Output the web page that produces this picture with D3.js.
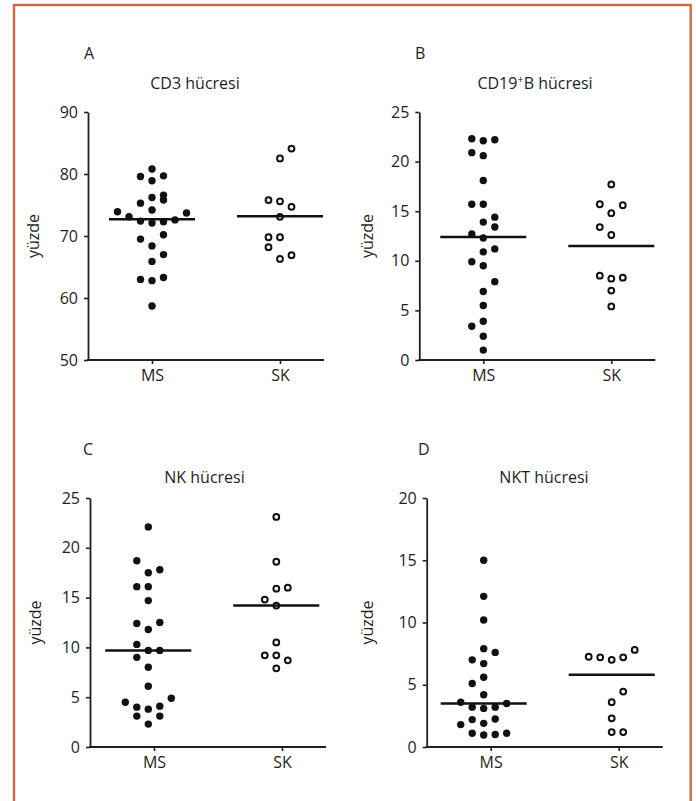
<!DOCTYPE html>
<html>
<head>
<meta charset="utf-8">
<script src="https://cdn.jsdelivr.net/npm/d3@7"></script>
<style>
  html, body { margin: 0; padding: 0; background: #fff; }
  svg { display: block; }
  text { font-family: "Open Sans", "Noto Sans", sans-serif; fill: #231f20; }
</style>
</head>
<body>
<svg id="chart" width="696" height="801"></svg>
<script>
// ---------- data ----------
const groups = ["MS", "SK"];

// A: CD3 hücresi
const cd3Ticks = [50, 60, 70, 80, 90];
const cd3MS = [80.8, 79.6, 79.7, 78.9, 76.6, 75.8, 76.2, 75.3, 74.2, 73.9, 73.1, 73.7, 72.4, 72.1, 72.3, 72.6, 70.2, 69.5, 68.4, 67.0, 65.9, 63.0, 62.8, 63.3, 58.7];
const cd3MSColumn = [0, -1, 1, 0, 1, 1, 0, -1, 0, -3, -2, 3, -1, 0, 1, 2, 1, -1, 0, 1, 0, -1, 0, 1, 0];
const cd3SK = [84.1, 82.5, 75.8, 75.6, 74.7, 73.1, 69.8, 69.8, 68.2, 66.3, 66.9];
const cd3SKColumn = [1, 0, -1, 0, 1, 0, -1, 0, -1, 0, 1];
const cd3Medians = [72.7, 73.2];

// B: CD19+B hücresi
const cd19Ticks = [0, 5, 10, 15, 20, 25];
const cd19MS = [22.3, 22.1, 22.2, 20.9, 20.6, 18.1, 15.7, 15.7, 14.4, 13.9, 13.4, 12.7, 12.3, 10.9, 11.2, 9.9, 9.5, 7.9, 6.9, 5.5, 3.4, 3.9, 2.4, 1.0];
const cd19MSColumn = [-1, 0, 1, -1, 0, 0, -1, 0, 1, 0, 1, -1, 0, 0, 1, -1, 0, 1, 0, 0, -1, 0, 0, 0];
const cd19SK = [17.7, 15.7, 15.6, 14.8, 13.4, 12.6, 8.5, 8.2, 8.3, 7.0, 5.4];
const cd19SKColumn = [0, -1, 1, 0, -1, 0, -1, 0, 1, 0, 0];
const cd19Medians = [12.4, 11.5];

// C: NK hücresi
const nkTicks = [0, 5, 10, 15, 20, 25];
const nkMS = [22.1, 18.7, 17.5, 17.8, 16.1, 16.1, 14.7, 12.4, 12.5, 11.8, 10.3, 9.7, 9.7, 9.0, 8.0, 6.1, 4.5, 4.9, 4.0, 3.8, 4.1, 3.1, 3.1, 2.3];
const nkMSColumn = [0, -1, 0, 1, -1, 0, 0, -1, 1, 0, -1, 0, 1, -1, 0, 0, -2, 2, -1, 0, 1, -1, 1, 0];
const nkSK = [23.1, 18.6, 15.9, 16.0, 14.8, 14.2, 10.5, 9.2, 9.2, 8.7, 7.9];
const nkSKColumn = [0, 0, 0, 1, -1, 0, 0, -1, 0, 1, 0];
const nkMedians = [9.7, 14.2];

// D: NKT hücresi
const nktTicks = [0, 5, 10, 15, 20];
const nktMS = [15.0, 12.1, 10.2, 7.9, 7.6, 7.0, 6.7, 5.6, 5.1, 4.2, 3.6, 3.5, 3.2, 3.2, 3.1, 1.8, 2.2, 2.25, 1.9, 1.1, 0.96, 1.0, 1.1];
const nktMSColumn = [0, 0, 0, 0, 1, -1, 0, 0, -1, 0, -2, 2, -1, 1, 0, -2, -1, 1, 0, -1, 0, 1, 2];
const nktSK = [7.25, 7.2, 7.0, 7.2, 7.8, 4.45, 3.6, 2.3, 1.2, 1.2];
const nktSKColumn = [-2, -1, 0, 1, 2, 1, 0, 0, 0, 1];
const nktMedians = [3.5, 5.8];

// ---------- layout ----------
const ink = "#231f20";
const svg = d3.select("#chart");

// frame
svg.append("rect")
  .attr("x", 14).attr("y", 5)
  .attr("width", 676.7).attr("height", 840)
  .attr("fill", "none")
  .attr("stroke", "#d5673d")
  .attr("stroke-width", 2.4);

const panels = [
  { letter: "A", title: [["CD3 hücresi"]], ms: cd3MS, msCol: cd3MSColumn, sk: cd3SK, skCol: cd3SKColumn,
    med: cd3Medians, ticks: cd3Ticks, domain: [50, 90],
    x0: 88, top: 112, bottom: 360, dx: 0, titleX: 195, titleY: 89, letterX: 84, letterY: 59, ylabX: 39 },
  { letter: "B", title: [["CD19"], ["+", "sup"], ["B hücresi"]], ms: cd19MS, msCol: cd19MSColumn, sk: cd19SK, skCol: cd19SKColumn,
    med: cd19Medians, ticks: cd19Ticks, domain: [0, 25],
    x0: 419.3, top: 112, bottom: 360, dx: 0, titleX: 535, titleY: 89, letterX: 415, letterY: 59, ylabX: 373 },
  { letter: "C", title: [["NK hücresi"]], ms: nkMS, msCol: nkMSColumn, sk: nkSK, skCol: nkSKColumn,
    med: nkMedians, ticks: nkTicks, domain: [0, 25],
    x0: 90, top: 498, bottom: 747, dx: -5.7, titleX: 204.5, titleY: 482.5, letterX: 83, letterY: 455, ylabX: 41 },
  { letter: "D", title: [["NKT hücresi"]], ms: nktMS, msCol: nktMSColumn, sk: nktSK, skCol: nktSKColumn,
    med: nktMedians, ticks: nktTicks, domain: [0, 20],
    x0: 426.7, top: 498, bottom: 747, dx: -7, titleX: 544, titleY: 482.5, letterX: 418, letterY: 455, ylabX: 373 }
];

const colScale = d3.scaleLinear().domain([0, 1]).range([0, 11.5]);

panels.forEach(p => {
  const g = svg.append("g");
  const x = d3.scalePoint().domain(groups).range([p.x0 + 64, p.x0 + 192]);
  const y = d3.scaleLinear().domain(p.domain).range([p.bottom, p.top]);
  const xEnd = p.x0 + 236;

  // y axis
  const ya = g.append("g")
    .attr("transform", `translate(${p.x0},0)`)
    .call(d3.axisLeft(y).tickValues(p.ticks).tickSize(4).tickSizeOuter(0).tickPadding(6).tickFormat(d3.format("d")));
  ya.select(".domain").attr("stroke", ink).attr("stroke-width", 1.8);
  ya.selectAll(".tick line").attr("stroke", ink).attr("stroke-width", 1.6);
  ya.selectAll(".tick text").attr("font-size", 16).attr("font-family", '"Open Sans", sans-serif').attr("fill", ink);
  ya.attr("font-size", null).attr("font-family", null);

  // x axis
  const xa = g.append("g")
    .attr("transform", `translate(0,${p.bottom})`)
    .call(d3.axisBottom(x).tickSize(4).tickPadding(6).tickSizeOuter(0));
  xa.select(".domain").remove();
  xa.selectAll(".tick line").attr("stroke", ink).attr("stroke-width", 1.6);
  xa.selectAll(".tick text").attr("font-size", 16).attr("font-family", '"Open Sans", sans-serif').attr("fill", ink);
  xa.attr("font-size", null).attr("font-family", null);
  g.append("line")
    .attr("x1", p.x0 - 0.9).attr("x2", xEnd)
    .attr("y1", p.bottom).attr("y2", p.bottom)
    .attr("stroke", ink).attr("stroke-width", 1.8);

  // y label
  g.append("text")
    .attr("transform", `translate(${p.ylabX},${(p.top + p.bottom) / 2}) rotate(-90)`)
    .attr("text-anchor", "middle")
    .attr("font-size", 16)
    .text("yüzde");

  // panel letter
  g.append("text")
    .attr("x", p.letterX).attr("y", p.letterY)
    .attr("font-size", 16)
    .text(p.letter);

  // title
  const t = g.append("text")
    .attr("x", p.titleX).attr("y", p.titleY)
    .attr("text-anchor", "middle")
    .attr("font-size", 16);
  p.title.forEach(part => {
    const ts = t.append("tspan").text(part[0]);
    if (part[1] === "sup") ts.attr("font-size", 11).attr("dy", -6);
    else if (t.selectAll("tspan").size() > 1 && p.title.some(q => q[1] === "sup")) ts.attr("dy", 6);
  });

  // points
  const msData = p.ms.map((v, i) => ({ v, c: p.msCol[i] }));
  const skData = p.sk.map((v, i) => ({ v, c: p.skCol[i] }));

  g.append("g").selectAll("circle")
    .data(msData).join("circle")
    .attr("cx", d => x("MS") + p.dx + colScale(d.c))
    .attr("cy", d => y(d.v))
    .attr("r", 3.7)
    .attr("fill", "#111");

  g.append("g").selectAll("circle")
    .data(skData).join("circle")
    .attr("cx", d => x("SK") + p.dx + colScale(d.c))
    .attr("cy", d => y(d.v))
    .attr("r", 2.9)
    .attr("fill", "#fff")
    .attr("stroke", "#111")
    .attr("stroke-width", 2);

  // median lines
  g.append("g").selectAll("line")
    .data(groups.map((k, i) => ({ k, m: p.med[i] }))).join("line")
    .attr("x1", d => x(d.k) + p.dx - 43)
    .attr("x2", d => x(d.k) + p.dx + 43)
    .attr("y1", d => y(d.m)).attr("y2", d => y(d.m))
    .attr("stroke", "#111")
    .attr("stroke-width", 2.5);
});
</script>
</body>
</html>
